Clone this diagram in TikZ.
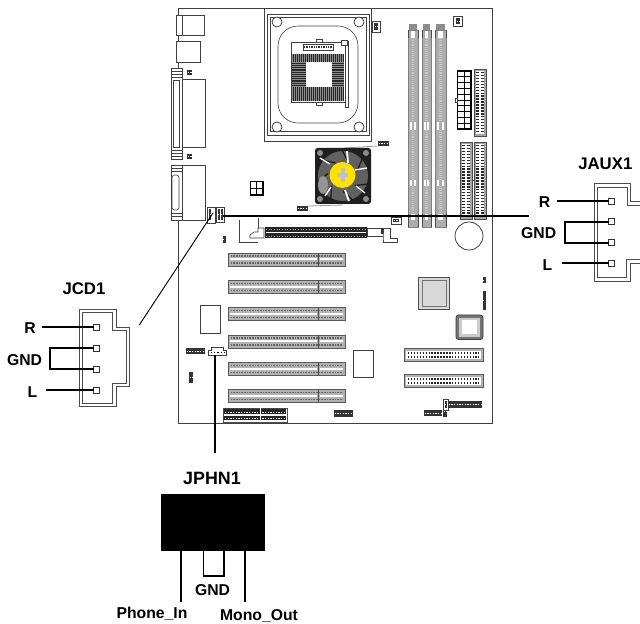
\documentclass[tikz,border=0pt]{standalone}
\usepackage{fontspec}
\setmainfont{Liberation Sans}
\newcommand{\lblfont}{\bfseries\fontsize{11.8}{13}\selectfont}
\newcommand{\ttlfont}{\bfseries\fontsize{13.4}{15}\selectfont}
\tikzset{
  wire/.style={line width=1.4pt,black},
  thin board/.style={line width=0.45pt,draw=black!75},
  pin/.style={draw=black!80,fill=white,line width=0.5pt,minimum size=4.4pt,inner sep=0pt,outer sep=0pt},
  housing/.style={draw=black!70,line width=0.6pt},
  lbl/.style={font=\lblfont,inner sep=0pt},
  ttl/.style={font=\ttlfont,inner sep=0pt},
  slotbody/.style={draw=black!65,fill=black!30,line width=0.6pt},
  graybar/.style={fill=black!32,draw=black!50,line width=0.3pt},
}
\newcommand{\pcislot}[1]{%
  \draw[slotbody] (228.5,#1) rectangle (345,#1+13);
  \fill[white] (230,#1+5.5) rectangle (317,#1+7.5);
  \fill[white] (320,#1+5.5) rectangle (343,#1+7.5);
  \draw[black!60,line width=1.2pt,dash pattern=on 0.6pt off 0.6pt] (231,#1+3) -- (343,#1+3);
  \draw[black!60,line width=1.2pt,dash pattern=on 0.6pt off 0.6pt] (231,#1+10) -- (343,#1+10);
  \draw[black!70,line width=0.5pt] (318.5,#1) -- (318.5,#1+13);
}
\newcommand{\dimm}[2]{%
  \fill[black!45] (#1+1,24) rectangle (#2-1,30);
  \fill[graybar] (#1,30) rectangle (#2,227);
  \fill[white] (#1+2,122) rectangle (#1+4,130);
  \fill[white] (#2-4,122) rectangle (#2-2,130);
  \fill[white] (#1+2,180) rectangle (#1+4,186);
  \fill[white] (#2-4,180) rectangle (#2-2,186);
  \fill[white] (#1+3,31) rectangle (#2-3,38);
  \fill[white] (#1+3,214) rectangle (#2-3,220);
  \draw[black!70,line width=0.5pt] (#1,30) -- (#1,38) (#2,30) -- (#2,38) (#1,214) -- (#1,227) (#2,214) -- (#2,227);
  \draw[black!22,line width=1.6pt,dash pattern=on 0.7pt off 0.7pt] ({(#1+#2)/2},38) -- ({(#1+#2)/2},122) ({(#1+#2)/2},130) -- ({(#1+#2)/2},180) ({(#1+#2)/2},186) -- ({(#1+#2)/2},214);
}
\newcommand{\vertheader}[4]{%
  \draw[draw=black!70,fill=black!35,line width=0.6pt] (#1,#2) rectangle (#3,#4);
  \fill[white] (#1+2,#2+2) rectangle (#3-2,#4-2);
  \draw[black!85,line width=6pt,dash pattern=on 1.1pt off 1.1pt] ({(#1+#3)/2},#2+3) -- ({(#1+#3)/2},#4-3);
  \draw[white,line width=1.2pt] ({(#1+#3)/2},#2+3) -- ({(#1+#3)/2},#4-3);
}
\newcommand{\horizheader}[4]{%
  \draw[draw=black!65,fill=black!30,line width=0.6pt] (#1,#2) rectangle (#3,#4);
  \fill[white] (#1+2,#2+2.5) rectangle (#3-2,#4-2.5);
  \draw[black!85,line width=5pt,dash pattern=on 1.1pt off 1.1pt] (#1+4,{(#2+#4)/2}) -- (#3-4,{(#2+#4)/2});
  \draw[white,line width=1pt] (#1+4,{(#2+#4)/2}) -- (#3-4,{(#2+#4)/2});
}
\newcommand{\tinypins}[4]{%
  \fill[black!80] (#1,#2) rectangle (#3,#4);
  \draw[white,line width=0.5pt,dash pattern=on 1pt off 1pt] (#1+0.5,{(#2+#4)/2}) -- (#3-0.5,{(#2+#4)/2});
}
\begin{document}
\begin{tikzpicture}[x=0.75pt,y=-0.75pt]
\useasboundingbox (0,0) rectangle (640,624);
\fill[white] (0,0) rectangle (640,624);

% --- board outline
\draw[thin board,line width=0.6pt] (178,62) -- (178,8) -- (492,8) -- (492,423) -- (178,423) -- (178,220);

% --- rear I/O
\draw[thin board,fill=white] (176,15) rectangle (204,35);
\draw[thin board] (182,15) -- (182,35);
\draw[thin board,fill=white] (176,41) rectangle (200,62);
% parallel port
\draw[thin board,fill=white] (182,79) rectangle (205,147);
\draw[thin board,fill=white] (182,68) -- (171,68) -- (171,159) -- (182,159) -- cycle;
\draw[thin board] (173,80) rectangle (179,147);
\foreach \yy in {71,74,77,150,153,156} \draw[thin board] (171,\yy) -- (182,\yy);
\tinypins{187}{70}{192}{75}
\tinypins{187}{154}{192}{159}
\draw[thin board] (178,62) -- (178,68);
% serial port
\draw[thin board,fill=white] (182,165) rectangle (205,220);
\draw[thin board,fill=white] (182,165) -- (171,165) -- (171,220) -- (182,220) -- cycle;
\draw[thin board,rounded corners=2pt] (172,175) rectangle (179,210);
\foreach \yy in {168,171,213,216} \draw[thin board] (171,\yy) -- (182,\yy);

% audio connectors at the board edge
\draw[thin board,fill=white] (207,207) rectangle (215,223);
\draw[thin board,fill=white] (216,207) rectangle (224,222);
\tinypins{217.5}{209}{219.5}{220}
\tinypins{220.5}{209}{222.5}{220}
\tinypins{209}{209}{211}{220}

% --- CPU retention
\draw[thin board,line width=0.7pt] (264,8) rectangle (371,141);
\draw[thin board,line width=0.7pt,fill=white] (267,14) rectangle (369.5,135);
\draw[thin board] (270,17) rectangle (366,131);
\draw[thin board,rounded corners=15pt] (278,26) rectangle (358,123);
\foreach \cx/\cy in {277/22,359/22,277/127,359/127}
  \draw[thin board,fill=white,line width=0.6pt] (\cx,\cy) circle (5);
\fill[white] (291,42) rectangle (345,53);
\draw[thin board] (291,42) rectangle (345,102);
\draw[thin board] (303,44) rectangle (333,50);
\draw[black!80,line width=1.5pt,dash pattern=on 1pt off 0.8pt] (304,47) -- (332,47);
\fill[black!85] (292,54) rectangle (344,101.5);
\fill[white] (306,62) rectangle (332,87);
\foreach \k in {0,...,25} {
  \draw[black!45,line width=0.3pt] (292.5+\k*2,54) -- (292.5+\k*2,62);
  \draw[black!45,line width=0.3pt] (292.5+\k*2,87) -- (292.5+\k*2,101.5);
}
\foreach \k in {0,...,11} {
  \draw[black!45,line width=0.3pt] (292,62+\k*2.2) -- (306,62+\k*2.2);
  \draw[black!45,line width=0.3pt] (332,62+\k*2.2) -- (344,62+\k*2.2);
}
\draw[thin board,fill=white] (345,41) rectangle (348,107);
\draw[thin board,fill=white] (341,40) rectangle (347,45);
\draw[thin board,fill=white] (316,102) rectangle (322,105);
\draw[thin board,fill=white] (316,39) rectangle (322,42);
\draw[thin board,fill=white] (372,21) rectangle (380,32);
\tinypins{374}{23}{378}{30}
\draw[thin board,fill=white] (453.5,16) rectangle (462,26);
\tinypins{456}{18}{460}{24}

% --- DIMM slots
\dimm{408}{418}
\dimm{422}{431}
\dimm{435}{446}

% --- power and drive headers
\draw[draw=black,line width=0.9pt,fill=white] (457.5,71) rectangle (471,129);
\foreach \k in {1,...,9} \draw[black,line width=0.6pt] (457.5,71+\k*5.8) -- (471,71+\k*5.8);
\draw[black,line width=0.6pt] (464.2,71) -- (464.2,129);
\draw[thin board,fill=white] (455.5,98) rectangle (457.5,102);
\vertheader{474}{69}{486}{136}
\vertheader{460}{142}{472}{219}
\vertheader{474}{142}{486}{219}
\draw[black!70,line width=0.6pt] (472,180) -- (474,180);

\tinypins{378}{141.5}{389}{146}
\draw[black!40,line width=0.6pt] (344,148) -- (378,146);

% --- fan
\fill[black!88,rounded corners=2pt] (315,148) rectangle (371,204);
\fill[black!62] (343,176) circle (25);
\foreach \a in {20,70,...,330} {
  \draw[black!90,line width=0.9pt] ({343+15*cos(\a)},{176-15*sin(\a)}) -- ({343+26*cos(\a+22)},{176-26*sin(\a+22)});
}
\draw[white,line width=1.4pt] (347,151) -- (348,163);
\draw[white,line width=1.4pt] (345,190) -- (349,201);
\draw[white,line width=1pt] (355,170) -- (367,168);
\draw[white,line width=1pt] (330,164) -- (320,158);
\draw[white,line width=1pt] (331,187) -- (325,196);
\draw[white,line width=0.9pt] (356,186) -- (365,193);
\fill[black!42] (323,185) ellipse (5 and 9);
\foreach \cx/\cy in {320/153,366/153,320/199,366/199} {
  \fill[black!45] (\cx,\cy) circle (3);
}
\fill[yellow!85!orange] (342.5,175) circle (13);
\fill[blue!30!black!25!white] (337,173) rectangle (348,177.5);
\fill[blue!30!black!25!white] (340.5,168) rectangle (345,182);
\tinypins{297}{206}{308}{211}
\draw[black!40,line width=0.6pt] (308,206) -- (343,205);

% CPU power
\draw[draw=black,line width=0.9pt,fill=white] (250.5,181.5) rectangle (263,195);
\draw[black,line width=0.7pt] (256.7,181.5) -- (256.7,195) (250.5,188.2) -- (263,188.2);

% --- AGP surround
\draw[thin board] (239,220) -- (239,242.5) -- (258,242.5) (258,218) -- (258,228);
\draw[thin board,fill=white] (250,235) -- (254,232) -- (258,232) -- (258,228) -- (264,228) -- (264,238) -- (250,238) -- cycle;
\fill[black!85] (264.5,227) rectangle (367,238);
\draw[white,line width=1pt] (266,232.5) -- (366,232.5);
\draw[black!30,line width=0.4pt,dash pattern=on 0.5pt off 1.5pt] (266,229) -- (366,229) (266,236) -- (366,236);
\draw[thin board,fill=white] (367,228) rectangle (383,236);
\fill[black!80] (380.5,228) rectangle (383,234);
\draw[thin board,fill=white] (383,228) -- (390,228) -- (390,238) -- (397,238) -- (397,242.5) -- (383,242.5) -- (383,238) -- cycle;
\draw[thin board,fill=white] (391,217) rectangle (401,224);
\tinypins{393}{219}{399}{222}
\tinypins{222.5}{236}{225.5}{243}

% --- battery
\draw[thin board,line width=0.6pt] (469,236) circle (14);

% --- PCI slots
\pcislot{253}
\pcislot{280.5}
\pcislot{307.5}
\pcislot{335}
\pcislot{362.5}
\pcislot{389.5}

% --- chips
\draw[draw=black!70,fill=black!15,line width=0.7pt] (418,277) rectangle (449,309);
\draw[draw=black!55,line width=0.5pt] (422,280) rectangle (446,306);
\draw[draw=black!75,fill=black!55,line width=0.6pt,rounded corners=2pt] (456,315) rectangle (483,339.5);
\fill[black!20] (459,318) rectangle (480,337);
\fill[white] (462,320) rectangle (477,334);
\draw[thin board,fill=white] (200,305) rectangle (220,333);
\draw[thin board,fill=white] (353.5,350) rectangle (373.5,377.5);
\tinypins{482.5}{277}{486}{283}
\tinypins{482.5}{291}{486}{310}
\tinypins{189}{372}{193}{383}
\tinypins{186}{348.5}{205}{354}

% --- IDE
\horizheader{404}{348.5}{483}{361.5}
\horizheader{404}{374.5}{483}{387.5}

% --- JPHN1 on the board
\draw[thin board,fill=white,line width=0.6pt] (208.5,350) -- (211,350) -- (211,347.5) -- (223,347.5) -- (223,350) -- (226,350) -- (226,355.5) -- (208.5,355.5) -- cycle;
\draw[black,line width=1pt,dash pattern=on 1.2pt off 1.3pt] (210.5,352.8) -- (224,352.8);

% --- bottom connectors
\draw[draw=black!70,fill=white,line width=0.6pt] (223.5,408.5) rectangle (287,422);
\fill[black!85] (224,409.5) rectangle (286,414.5);
\fill[black!85] (224,416) rectangle (286,420.5);
\draw[white,line width=0.8pt] (260.5,408) -- (260.5,422);
\draw[white,line width=0.5pt,dash pattern=on 1pt off 1pt] (225,412) -- (285,412) (225,418) -- (285,418);
\tinypins{334}{410}{353}{417}
\tinypins{424}{410.5}{442}{416.5}
\tinypins{443}{405}{447}{417}
\draw[thin board,fill=white] (443,399) rectangle (448,410);
\tinypins{444.5}{401}{446.5}{408}
\tinypins{448}{401.5}{482}{408}

% --- JCD1
\draw[housing,fill=white] (79.3,309.3) -- (116,309.3) -- (116,327.3) -- (129.3,327.3) -- (129.3,386.7) -- (116,386.7) -- (116,406.7) -- (79.3,406.7) -- cycle;
\draw[housing] (82.3,312.7) -- (112,312.7) -- (112,330.7) -- (126,330.7) -- (126,383.3) -- (112,383.3) -- (112,403.3) -- (82.3,403.3) -- cycle;
\node[pin] (cdA) at (96.7,327.3) {};
\node[pin] (cdB) at (96.7,348.3) {};
\node[pin] (cdC) at (96.7,369) {};
\node[pin] (cdD) at (96.7,390) {};
\coordinate (cdR) at (42,327.3);
\coordinate (cdL) at (46,390);
\coordinate (cdG) at (50,347.8);
\coordinate (cdH) at (50,370);
\node[lbl] (cdRt) at (30,328) {R};
\node[lbl] (cdGt) at (24.5,360) {GND};
\node[lbl] (cdLt) at (32.5,392) {L};
\node[ttl,font=\bfseries\fontsize{12.6}{15}\selectfont] (cdT) at (84,289) {JCD1};
\draw[wire] (cdR) -- (cdA.west);
\draw[wire] (cdL) -- (cdD.west);
\draw[wire] (cdB.west) -- (cdB.west -| cdG) -- (cdC.west -| cdG) -- (cdC.west);
\coordinate (cdEnd) at (139.3,325);
\coordinate (cdBoard) at (213,213);
\draw[black,line width=0.7pt] (cdEnd) -- (cdBoard);

% --- JAUX1
\begin{scope}
\clip (580,170) rectangle (640,300);
\draw[housing,fill=white] (643,201.7) -- (630.7,201.7) -- (630.7,183.3) -- (594.3,183.3) -- (594.3,281) -- (630.7,281) -- (630.7,263) -- (643,263);
\draw[housing] (643,205) -- (627,205) -- (627,187.3) -- (597.3,187.3) -- (597.3,277) -- (626,277) -- (626,259) -- (643,259);
\end{scope}
\node[pin] (auA) at (611.7,201) {};
\node[pin] (auB) at (611.7,221.7) {};
\node[pin] (auC) at (611.7,242.7) {};
\node[pin] (auD) at (611.7,263.3) {};
\coordinate (auR) at (557,201);
\coordinate (auL) at (562,263.3);
\coordinate (auG) at (565,222);
\node[lbl] (auRt) at (544.5,202.5) {R};
\node[lbl] (auGt) at (538.7,233.5) {GND};
\node[lbl] (auLt) at (547.5,265) {L};
\node[ttl,font=\bfseries\fontsize{12.6}{15}\selectfont,anchor=west] (auT) at (578,164) {JAUX1};
\draw[wire] (auR) -- (auA.west);
\draw[wire] (auL) -- (auD.west);
\draw[wire] (auB.west) -- (auB.west -| auG) -- (auC.west -| auG) -- (auC.west);
\coordinate (auEnd) at (529,216);
\coordinate (auBoard) at (223,216);
\draw[black,line width=1.2pt] (auBoard) -- (auEnd);

% --- JPHN1
\coordinate (phTop) at (215,355);
\coordinate (phBot) at (215,453);
\draw[wire] (phTop) -- (phBot);
\node[ttl] (phT) at (212,478) {JPHN1};
\node[fill=black,minimum width=78pt,minimum height=42.5pt,inner sep=0pt,outer sep=0pt] (phBox) at (213,522.3) {};
\coordinate (phA) at (181,601.7);
\coordinate (phB) at (203.5,575.7);
\coordinate (phC) at (224,575.7);
\coordinate (phD) at (245,601.7);
\draw[wire] (phBox.south -| phA) -- (phA);
\draw[wire] (phBox.south -| phD) -- (phD);
\draw[wire] (phBox.south -| phB) -- (phB) -- (phC) -- (phBox.south -| phC);
\node[lbl] (phG) at (212.5,590.5) {GND};
\node[lbl] (phIn) at (152,614) {Phone\_In};
\node[lbl] (phOut) at (259,616) {Mono\_Out};
\end{tikzpicture}
\end{document}
